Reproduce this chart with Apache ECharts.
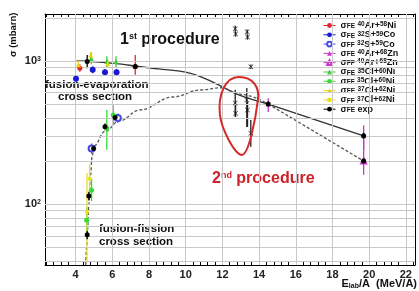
<!DOCTYPE html>
<html>
<head>
<meta charset="utf-8">
<script src="https://cdn.jsdelivr.net/npm/echarts@6/dist/echarts.min.js"></script>
<style>
  html, body { margin: 0; padding: 0; background: #fff; }
  #chart { width: 419px; height: 291px; }
</style>
</head>
<body>
<div id="chart"></div>
<script>
// x ticks (E_lab/A) and y gridlines (log, mbarn)
const xMajor = [4, 6, 8, 10, 12, 14, 16, 18, 20, 22];
const yMinorGrid = [40, 50, 60, 70, 80, 90, 200, 300, 400, 500, 600, 700, 800, 900, 2000];
const yMajorGrid = [100, 1000];

// points: [E/A, sigma, errLow, errHigh]
const arNiFE = [[4.23, 890, 840, 950], [7.25, 912, 800, 1100]];
const sCoFE = [[4.02, 750, 710, 790], [4.93, 870, 820, 920], [5.6, 835, 790, 880], [6.23, 835, 790, 880]];
const sCoFF = [[4.87, 245, 225, 265], [6.3, 400, 370, 430]];
const arZnFE = [[14.5, 500, 440, 550], [19.7, 300, 240, 355]];
const arZnFF = [[19.7, 200, 160, 280]];
const clNiFEa = [[4.85, 1040, 950, 1150], [5.7, 990, 900, 1080], [6.2, 990, 900, 1080]];
const clNiFFa = [[4.6, 77, 60, 95], [4.87, 125, 105, 150], [5.7, 338, 240, 455], [6.05, 420, 355, 490]];
const clNiFEb = [[4.15, 940, 870, 1010], [4.82, 1100, 970, 1150], [5.75, 960, 900, 1030]];
const clNiFFb = [[4.62, 88, 40, 165], [4.76, 150, 110, 190]];
const expFE = [[4.63, 990, 890, 1100], [7.25, 915, 880, 950], [14.5, 500, 480, 520], [19.7, 300, 285, 315]];
const expFF = [[4.63, 61, 57, 65], [4.72, 114, 106, 122], [4.98, 245, 232, 258], [5.6, 347, 330, 365], [6.15, 403, 385, 420], [19.7, 200, 190, 210]];
// 2nd procedure points
const exp2 = [[12.7, 1680, 1600, 1760], [12.72, 1545, 1480, 1610], [13.35, 1600, 1530, 1660], [13.37, 1470, 1410, 1530],
  [13.55, 912, 880, 945], [12.7, 508, 406, 630], [12.72, 432, 406, 500], [13.33, 534, 346, 648], [13.37, 454, 346, 520],
  [13.55, 313, 251, 387]];

// fits
const feCurve = [[4.05, 1000], [4.63, 995], [5.5, 978], [6.5, 950], [7.3, 918], [8.5, 880], [10, 835], [11, 760], [12, 660], [13, 572], [14.5, 500]];
const feTail = [[14.5, 500], [19.7, 300]];
const ffCurve = [[4.55, 37.5], [4.6, 50], [4.65, 66], [4.72, 100], [4.8, 150], [4.9, 215], [5.0, 255], [5.6, 322], [6.4, 382], [7.5, 455],
  [9.3, 560], [10.8, 627], [11.9, 650], [13, 585], [14.5, 500]];
const ffTail = [[14.5, 500], [19.7, 200]];
const loopCenter = [[12.9, 420]];

const legendLabels = {
  'feArNi': 'σ{sub|FE} {sup|40}Ar+{sup|58}Ni',
  'feSCo': 'σ{sub|FE} {sup|32}S+{sup|59}Co',
  'ffSCo': 'σ{sub|FF} {sup|32}S+{sup|59}Co',
  'feArZn': 'σ{sub|FE} {sup|40}Ar+{sup|68}Zn',
  'ffArZn': 'σ{sub|FF} {sup|40}Ar+{sup|68}Zn',
  'feClNia': 'σ{sub|FE} {sup|35}Cl+{sup|60}Ni',
  'ffClNia': 'σ{sub|FF} {sup|35}Cl+{sup|60}Ni',
  'feClNib': 'σ{sub|FE} {sup|37}Cl+{sup|62}Ni',
  'ffClNib': 'σ{sub|FF} {sup|37}Cl+{sup|62}Ni',
  'exp': 'σ{sub|FE} exp'
};

const groups = [
  { name: 'feArNi', data: arNiFE, color: '#e3262b', symbol: 'circle', size: 5 },
  { name: 'feSCo', data: sCoFE, color: '#1a1ad6', symbol: 'circle', size: 6 },
  { name: 'ffSCo', data: sCoFF, color: '#4a4ae0', symbol: 'emptyCircle', size: 6 },
  { name: 'feArZn', data: arZnFE, color: '#cc33cc', symbol: 'triangle', size: 5 },
  { name: 'ffArZn', data: arZnFF, color: '#cc33cc', symbol: 'emptyTriangle', size: 5 },
  { name: 'feClNia', data: clNiFEa, color: '#3ccc3c', symbol: 'triangle', size: 5 },
  { name: 'ffClNia', data: clNiFFa, color: '#33dd33', symbol: 'circle', size: 5 },
  { name: 'feClNib', data: clNiFEb, color: '#e8d60a', symbol: 'triangle', size: 5 },
  { name: 'ffClNib', data: clNiFFb, color: '#e8e020', symbol: 'circle', size: 4 },
  { name: 'exp', data: expFE.concat(expFF), color: '#000', symbol: 'circle', size: 5 }
];

const xMinor = [];
for (let v = 2.4; v < 22.6; v += 0.4) xMinor.push(Math.round(v * 10) / 10);

function errorBar(color) {
  return function (params, api) {
    const x = api.value(0);
    const a = api.coord([x, api.value(2)]);
    const b = api.coord([x, api.value(3)]);
    return {
      type: 'line',
      shape: { x1: a[0], y1: a[1], x2: b[0], y2: b[1] },
      style: { stroke: color, lineWidth: 1.3 }
    };
  };
}

const series = [];

// gridlines
series.push({
  type: 'line', data: [], silent: true,
  markLine: {
    silent: true, symbol: 'none', label: { show: false }, animation: false,
    lineStyle: { color: '#c9c9c9', width: 1, type: 'solid' },
    data: xMajor.map(v => ({ xAxis: v }))
      .concat(yMinorGrid.map(v => ({ yAxis: v })))
      .concat(yMajorGrid.map(v => ({ yAxis: v })))
  }
});

series.push({
  type: 'line', data: feCurve, smooth: 0.4, symbol: 'none', silent: true,
  lineStyle: { color: '#333', width: 1.4 }, z: 3
});
series.push({
  type: 'line', data: feTail, symbol: 'none', silent: true,
  lineStyle: { color: '#333', width: 1.4 }, z: 3
});
series.push({
  type: 'line', data: ffCurve, smooth: 0.4, smoothMonotone: 'x', symbol: 'none', silent: true,
  lineStyle: { color: '#555', width: 1.3, type: [3, 2] }, z: 3
});
series.push({
  type: 'line', data: ffTail, symbol: 'none', silent: true,
  lineStyle: { color: '#555', width: 1.3, type: [3, 2] }, z: 3
});

groups.forEach(g => {
  series.push({
    type: 'custom', renderItem: errorBar(g.color), data: g.data,
    encode: { x: 0, y: 1 }, silent: true, z: 4
  });
  series.push({
    name: g.name, type: 'line', data: g.data.map(d => [d[0], d[1]]),
    symbol: g.symbol, symbolSize: g.size, showSymbol: true,
    itemStyle: { color: g.color, borderWidth: 1.2 },
    lineStyle: { opacity: 0 }, z: 5
  });
});

series.push({
  type: 'custom', renderItem: errorBar('#222'), data: exp2,
  encode: { x: 0, y: 1 }, silent: true, z: 4
});
series.push({
  type: 'scatter', data: exp2.map(d => [d[0], d[1]]),
  symbol: 'path://M0,1 L1,0 L5,4 L9,0 L10,1 L6,5 L10,9 L9,10 L5,6 L1,10 L0,9 L4,5 Z',
  symbolSize: 5, itemStyle: { color: '#111' }, silent: true, z: 5
});

// red loop around the 2nd-procedure points
series.push({
  type: 'custom', data: loopCenter, encode: { x: 0, y: 1 }, silent: true, z: 6,
  renderItem: function (params, api) {
    const c = api.coord([api.value(0), api.value(1)]);
    return {
      type: 'path', x: c[0], y: c[1],
      shape: { pathData: 'M0,-38 C14,-38 21,-28 19,-15 C17,2 10,40 3,40 C-4,40 -17,15 -19,0 C-21,-20 -14,-38 0,-38 Z' },
      style: { stroke: '#d42a2a', fill: 'none', lineWidth: 2 }
    };
  }
});

const supRich = {
  sub: { fontSize: 6.5, fontWeight: 'bold', verticalAlign: 'bottom', lineHeight: 9 },
  sup: { fontSize: 6.5, fontWeight: 'bold', verticalAlign: 'top', lineHeight: 9 }
};

const xBase = { type: 'value', min: 2.33, max: 22.5, splitLine: { show: false } };
const yBase = { type: 'log', logBase: 10, min: 37.5, max: 2130, splitLine: { show: false } };

const chart = echarts.init(document.getElementById('chart'));
chart.setOption({
  animation: false,
  backgroundColor: '#fff',
  grid: { left: 45, right: 4, top: 14, bottom: 26 },
  xAxis: [
    Object.assign({}, xBase, {
      position: 'bottom',
      axisLine: { show: true, lineStyle: { color: '#000', width: 1 } },
      axisTick: { show: true, inside: true, length: 6, customValues: xMajor, lineStyle: { color: '#000' } },
      axisLabel: { show: true, customValues: xMajor, margin: 4, fontSize: 11, fontWeight: 'bold', color: '#222', fontFamily: 'Liberation Sans' }
    }),
    Object.assign({}, xBase, {
      position: 'bottom',
      axisLine: { show: false },
      axisTick: { show: true, inside: true, length: 3, customValues: xMinor, lineStyle: { color: '#000' } },
      axisLabel: { show: false }
    }),
    Object.assign({}, xBase, {
      position: 'top',
      axisLine: { show: true, lineStyle: { color: '#000', width: 1 } },
      axisTick: { show: true, inside: true, length: 6, customValues: xMajor, lineStyle: { color: '#000' } },
      axisLabel: { show: false }
    }),
    Object.assign({}, xBase, {
      position: 'top',
      axisLine: { show: false },
      axisTick: { show: true, inside: true, length: 3, customValues: xMinor, lineStyle: { color: '#000' } },
      axisLabel: { show: false }
    })
  ],
  yAxis: [
    Object.assign({}, yBase, {
      position: 'left',
      axisLine: { show: true, lineStyle: { color: '#000', width: 1 } },
      axisTick: { show: true, inside: true, length: 8, lineStyle: { color: '#000' } },
      axisLabel: {
        show: true, showMinLabel: false, showMaxLabel: false, margin: 4,
        fontSize: 11, fontWeight: 'bold', color: '#222', fontFamily: 'Liberation Sans',
        formatter: v => '10{sup|' + Math.round(Math.log10(v)) + '}',
        rich: { sup: { fontSize: 7, fontWeight: 'bold', verticalAlign: 'top', color: '#222', lineHeight: 10 } }
      }
    }),
    Object.assign({}, yBase, {
      position: 'right',
      axisLine: { show: true, lineStyle: { color: '#000', width: 1 } },
      axisTick: { show: true, inside: true, length: 8, lineStyle: { color: '#000' } },
      axisLabel: { show: false }
    })
  ],
  legend: {
    orient: 'vertical', left: 320, top: 19,
    itemWidth: 12, itemHeight: 6, itemGap: 0.3,
    backgroundColor: '#fff', padding: [2, 3, 2, 3],
    data: groups.map(g => g.name),
    lineStyle: { width: 1, opacity: 1 },
    formatter: name => legendLabels[name],
    textStyle: { fontSize: 9, fontWeight: 'bold', color: '#111', fontFamily: 'Liberation Sans', lineHeight: 9, rich: supRich }
  },
  graphic: [
    { type: 'text', x: 120, y: 40, style: { text: '1{s|st} procedure', font: 'bold 16px "Liberation Sans"', fill: '#111', verticalAlign: 'middle',
      rich: { s: { fontSize: 9, fontWeight: 'bold', verticalAlign: 'top', lineHeight: 16 } } } },
    { type: 'text', x: 45, y: 85, style: { text: 'fusion-evaporation', font: 'bold 11.5px "Liberation Sans"', fill: '#111', verticalAlign: 'middle' } },
    { type: 'text', x: 58, y: 97, style: { text: 'cross section', font: 'bold 11.5px "Liberation Sans"', fill: '#111', verticalAlign: 'middle' } },
    { type: 'text', x: 99, y: 229, style: { text: 'fusion-fission', font: 'bold 11.5px "Liberation Sans"', fill: '#111', verticalAlign: 'middle' } },
    { type: 'text', x: 99, y: 242, style: { text: 'cross section', font: 'bold 11.5px "Liberation Sans"', fill: '#111', verticalAlign: 'middle' } },
    { type: 'text', x: 212, y: 179, style: { text: '2{s|nd} procedure', font: 'bold 16px "Liberation Sans"', fill: '#cc2229', verticalAlign: 'middle',
      rich: { s: { fontSize: 9, fontWeight: 'bold', verticalAlign: 'top', lineHeight: 16 } } } },
    { type: 'text', x: 417, y: 284, style: { text: 'E{s|lab}/A  (MeV/A)', font: 'bold 11px "Liberation Sans"', fill: '#111', align: 'right', verticalAlign: 'middle',
      rich: { s: { fontSize: 7, fontWeight: 'bold', verticalAlign: 'bottom', lineHeight: 12 } } } },
    { type: 'text', x: 13, y: 57, rotation: Math.PI / 2, style: { text: 'σ (mbarn)', font: 'bold 9.5px "Liberation Sans"', fill: '#111', align: 'left', verticalAlign: 'middle' } }
  ],
  series: series
});
</script>
</body>
</html>
